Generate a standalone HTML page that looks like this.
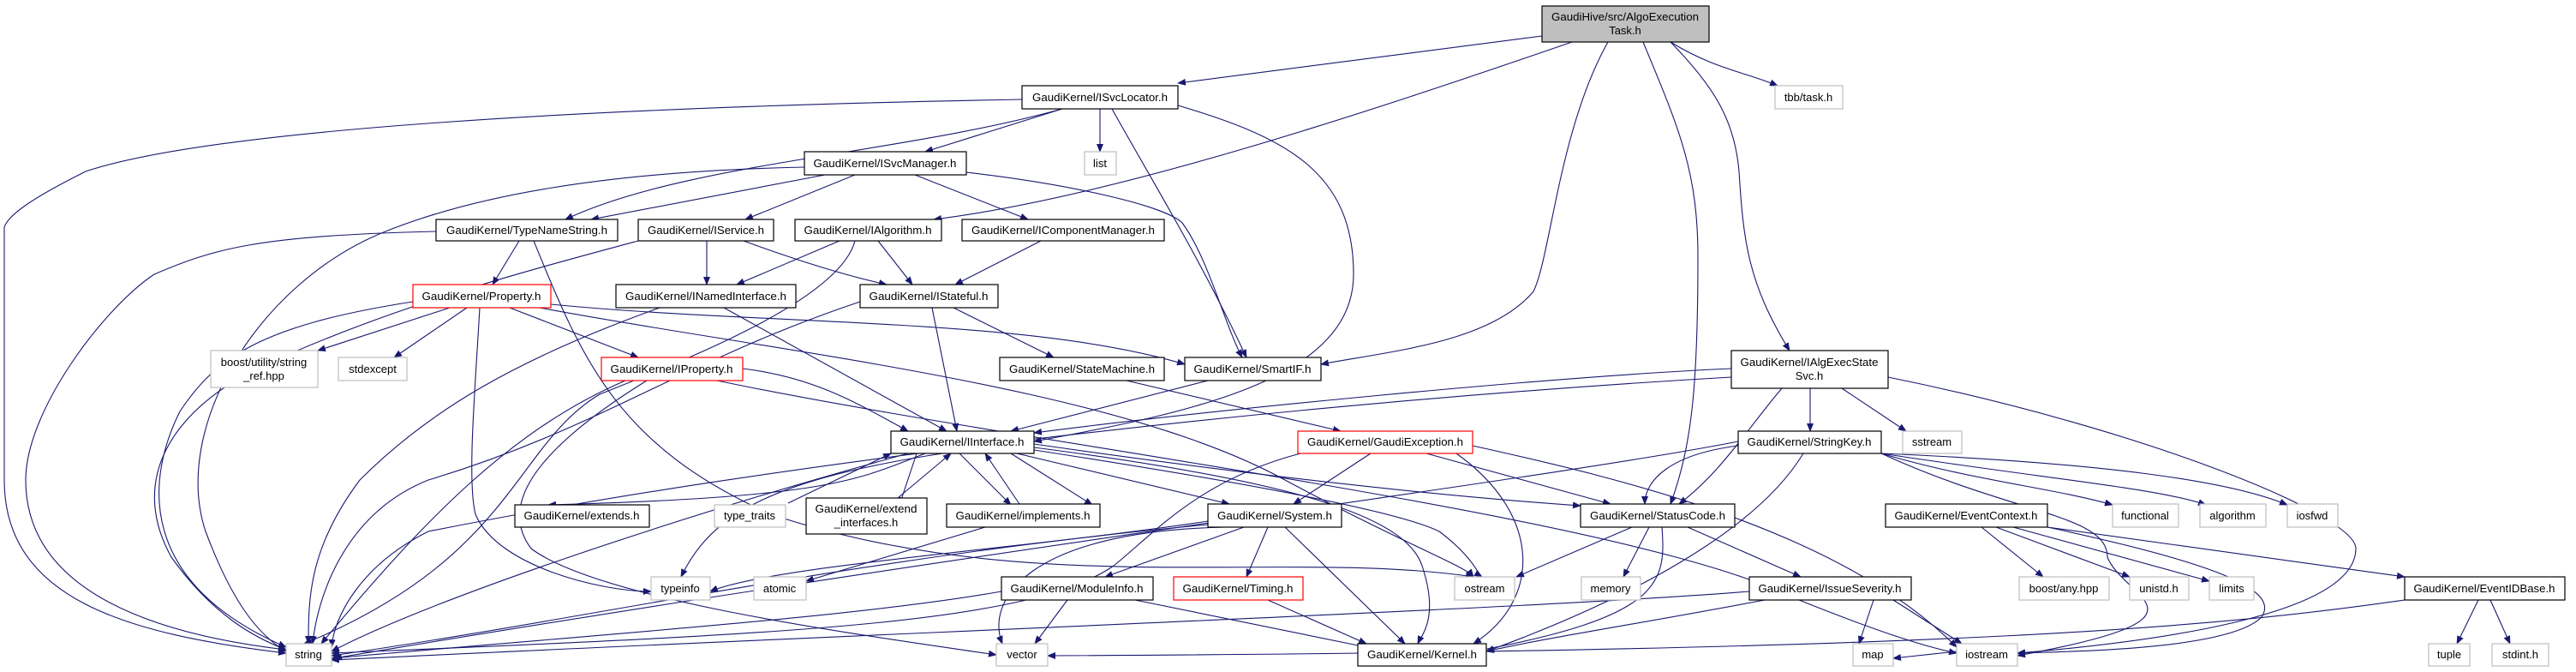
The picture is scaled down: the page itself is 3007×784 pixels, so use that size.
<!DOCTYPE html>
<html><head><meta charset="utf-8"><style>
html,body{margin:0;padding:0;background:#fff;}
svg{display:block;}
text{font-family:"Liberation Sans",sans-serif;font-size:13px;fill:#000;}
.e{fill:none;stroke:#191970;stroke-width:1.1;marker-end:url(#a);}
.n{fill:#fff;stroke:#000;stroke-width:1.2;}
.g{fill:#fff;stroke:#bfbfbf;stroke-width:1.2;}
.r{fill:#fff;stroke:#ff0000;stroke-width:1.2;}
</style></head><body>
<svg width="3007" height="784" viewBox="0 0 3007 784" xmlns="http://www.w3.org/2000/svg">
<defs><marker id="a" markerWidth="10" markerHeight="8" refX="9" refY="4" orient="auto" markerUnits="userSpaceOnUse"><path d="M0,0 L10,4 L0,8 z" fill="#191970"/></marker></defs>

<path class="e" d="M1800,42 L1375,97"/>
<path class="e" d="M1835,49 C1600,130 1300,230 1090,256"/>
<path class="e" d="M1877,49 C1820,150 1810,300 1790,340 C1740,400 1620,410 1542,425"/>
<path class="e" d="M1918,49 C1960,150 1982,200 1982,300 C1982,450 1975,520 1950,588"/>
<path class="e" d="M1950,49 C2000,100 2025,140 2030,200 C2035,280 2040,330 2089,409"/>
<path class="e" d="M1950,49 C2000,80 2040,85 2075,100"/>
<path class="e" d="M1193,116 C700,125 250,150 100,200 C40,230 10,250 5,265 L5,560 C5,700 150,740 334,762"/>
<path class="e" d="M1240,127 C1050,180 800,190 660,256"/>
<path class="e" d="M1240,127 L1080,177"/>
<path class="e" d="M1284,127 L1284,177"/>
<path class="e" d="M1298,127 C1350,220 1400,300 1455,417"/>
<path class="e" d="M1375,123 C1500,160 1580,200 1580,320 C1580,440 1400,480 1207,515"/>
<path class="e" d="M939,195 C700,200 550,230 450,270 C300,330 200,500 240,620 C270,700 300,740 334,760"/>
<path class="e" d="M963,204 L690,256"/>
<path class="e" d="M998,204 L870,256"/>
<path class="e" d="M1068,204 L1200,256"/>
<path class="e" d="M1128,201 C1250,215 1360,240 1380,260 C1410,300 1430,380 1450,417"/>
<path class="e" d="M509,270 C300,275 250,290 180,320 C120,360 30,480 30,560 C30,690 180,740 334,758"/>
<path class="e" d="M606,281 L575,332"/>
<path class="e" d="M623,281 C680,420 720,520 900,600 C1200,700 1500,640 1720,673"/>
<path class="e" d="M745,281 C600,320 450,360 300,430 C200,480 150,560 200,650 C250,720 300,745 334,758"/>
<path class="e" d="M825,281 L825,332"/>
<path class="e" d="M868,281 C920,300 980,320 1035,332"/>
<path class="e" d="M980,281 L860,332"/>
<path class="e" d="M1025,281 L1065,332"/>
<path class="e" d="M998,281 C980,350 800,420 700,460 C600,520 600,650 355,751"/>
<path class="e" d="M1215,281 L1115,332"/>
<path class="e" d="M482,352 C300,380 250,420 210,480 C170,560 160,680 334,755"/>
<path class="e" d="M525,359 L371,409"/>
<path class="e" d="M545,359 L460,417"/>
<path class="e" d="M595,359 L745,417"/>
<path class="e" d="M560,359 C555,450 545,560 555,600 C580,660 700,690 760,690"/>
<path class="e" d="M643,355 C900,380 1200,370 1383,425"/>
<path class="e" d="M630,359 C900,410 1300,450 1500,560 C1650,640 1710,660 1720,673"/>
<path class="e" d="M770,359 C600,420 500,480 420,560 C360,640 360,700 360,751"/>
<path class="e" d="M845,359 L1105,503"/>
<path class="e" d="M1088,359 L1117,503"/>
<path class="e" d="M1113,359 L1230,417"/>
<path class="e" d="M1004,352 C800,420 700,500 500,560 C400,600 370,700 365,751"/>
<path class="e" d="M867,430 C950,440 1000,470 1060,503"/>
<path class="e" d="M730,444 C600,500 500,600 375,751"/>
<path class="e" d="M755,444 C600,540 590,600 620,640 C700,700 1000,740 1163,764"/>
<path class="e" d="M837,444 C1200,520 1900,600 2100,700 C2200,740 2250,755 2284,762"/>
<path class="e" d="M1315,444 L1565,503"/>
<path class="e" d="M1410,444 L1180,503"/>
<path class="e" d="M2021,430 C1800,440 1400,480 1207,505"/>
<path class="e" d="M2021,440 C1500,470 900,540 500,620 C420,660 390,720 387,755"/>
<path class="e" d="M2113,453 L2113,503"/>
<path class="e" d="M2150,453 L2225,503"/>
<path class="e" d="M2080,453 C2040,500 2010,550 1960,588"/>
<path class="e" d="M2204,440 C2500,500 2750,600 2750,640 C2750,720 2500,750 2355,762"/>
<path class="e" d="M1080,529 C1000,560 970,580 640,589"/>
<path class="e" d="M1100,529 L1140,503"/>
<path class="e" d="M1060,529 C800,600 500,700 387,760"/>
<path class="e" d="M1180,529 L1275,589"/>
<path class="e" d="M1187,529 L1435,588"/>
<path class="e" d="M1207,518 C1500,560 1700,580 1845,590"/>
<path class="e" d="M1207,522 C1500,560 1640,600 1660,660 C1680,720 1660,740 1655,751"/>
<path class="e" d="M1207,525 C1500,570 1640,600 1680,620 C1720,650 1725,670 1730,673"/>
<path class="e" d="M1100,529 C900,560 830,600 795,673"/>
<path class="e" d="M1070,529 L1050,589"/>
<path class="e" d="M1120,529 L1180,589"/>
<path class="e" d="M920,587 L1040,529"/>
<path class="e" d="M1048,581 L1110,529"/>
<path class="e" d="M1190,588 L1150,529"/>
<path class="e" d="M1150,615 L941,678"/>
<path class="e" d="M1600,529 L1510,588"/>
<path class="e" d="M1665,529 L1880,588"/>
<path class="e" d="M1700,529 C1800,600 1800,700 1720,751"/>
<path class="e" d="M1518,529 C1400,560 1350,620 1300,660 C1200,730 900,740 387,762"/>
<path class="e" d="M1719,520 C1900,560 2150,620 2284,755"/>
<path class="e" d="M1452,615 L1290,673"/>
<path class="e" d="M1480,615 L1455,673"/>
<path class="e" d="M1500,615 L1640,751"/>
<path class="e" d="M1410,608 C1200,640 900,660 829,690"/>
<path class="e" d="M1410,612 C1000,650 700,720 387,765"/>
<path class="e" d="M1430,615 C1200,620 1150,700 1170,751"/>
<path class="e" d="M1905,615 L1770,673"/>
<path class="e" d="M1925,615 L1895,673"/>
<path class="e" d="M1940,615 C1945,680 1940,720 1720,760"/>
<path class="e" d="M1970,615 L2102,673"/>
<path class="e" d="M2029,520 C1950,530 1920,560 1920,588"/>
<path class="e" d="M2196,529 C2300,560 2400,570 2466,589"/>
<path class="e" d="M2196,529 C2400,560 2520,570 2575,589"/>
<path class="e" d="M2196,529 C2450,540 2600,560 2670,589"/>
<path class="e" d="M2105,529 C2050,620 1900,700 1735,760"/>
<path class="e" d="M2196,529 C2350,600 2460,600 2460,650 C2480,700 2600,720 2355,765"/>
<path class="e" d="M2029,515 C1800,560 1150,640 390,768"/>
<path class="e" d="M2313,615 L2385,673"/>
<path class="e" d="M2330,615 L2486,673"/>
<path class="e" d="M2350,615 L2579,678"/>
<path class="e" d="M2390,615 L2807,673"/>
<path class="e" d="M2390,615 C2600,660 2660,690 2640,720 C2600,760 2400,760 2355,762"/>
<path class="e" d="M2042,690 C1800,710 1000,740 387,770"/>
<path class="e" d="M2187,700 L2170,751"/>
<path class="e" d="M2210,700 L2290,751"/>
<path class="e" d="M2060,700 C1900,730 1800,745 1735,760"/>
<path class="e" d="M2893,700 L2868,751"/>
<path class="e" d="M2907,700 L2930,751"/>
<path class="e" d="M2807,700 C2600,730 2300,760 1223,765"/>
<path class="e" d="M1169,690 C1000,720 700,740 387,768"/>
<path class="e" d="M1246,700 L1208,751"/>
<path class="e" d="M1325,700 L1595,755"/>
<path class="e" d="M1480,700 L1595,751"/>
<path class="e" d="M2284,760 L2210,768"/>

<rect x="1800" y="7" width="195" height="42" fill="#bfbfbf" stroke="#000" stroke-width="1.2"/>
<text x="1897" y="24" text-anchor="middle" textLength="172" lengthAdjust="spacingAndGlyphs">GaudiHive/src/AlgoExecution</text>
<text x="1897" y="40" text-anchor="middle">Task.h</text>

<rect class="n" x="1193" y="100" width="182" height="27"/><text x="1284" y="118" text-anchor="middle" textLength="158" lengthAdjust="spacingAndGlyphs">GaudiKernel/ISvcLocator.h</text>
<rect class="g" x="2072" y="100" width="79" height="27"/><text x="2111" y="118" text-anchor="middle">tbb/task.h</text>
<rect class="n" x="939" y="177" width="189" height="27"/><text x="1033" y="195" text-anchor="middle" textLength="167" lengthAdjust="spacingAndGlyphs">GaudiKernel/ISvcManager.h</text>
<rect class="g" x="1266" y="177" width="37" height="27"/><text x="1284" y="195" text-anchor="middle">list</text>
<rect class="n" x="509" y="256" width="212" height="25"/><text x="615" y="273" text-anchor="middle" textLength="188" lengthAdjust="spacingAndGlyphs">GaudiKernel/TypeNameString.h</text>
<rect class="n" x="745" y="256" width="158" height="25"/><text x="824" y="273" text-anchor="middle" textLength="136" lengthAdjust="spacingAndGlyphs">GaudiKernel/IService.h</text>
<rect class="n" x="928" y="256" width="171" height="25"/><text x="1013" y="273" text-anchor="middle" textLength="149" lengthAdjust="spacingAndGlyphs">GaudiKernel/IAlgorithm.h</text>
<rect class="n" x="1123" y="256" width="236" height="25"/><text x="1241" y="273" text-anchor="middle" textLength="214" lengthAdjust="spacingAndGlyphs">GaudiKernel/IComponentManager.h</text>
<rect class="r" x="482" y="332" width="161" height="27"/><text x="562" y="350" text-anchor="middle" textLength="139" lengthAdjust="spacingAndGlyphs">GaudiKernel/Property.h</text>
<rect class="n" x="719" y="332" width="210" height="27"/><text x="824" y="350" text-anchor="middle" textLength="188" lengthAdjust="spacingAndGlyphs">GaudiKernel/INamedInterface.h</text>
<rect class="n" x="1004" y="332" width="161" height="27"/><text x="1084" y="350" text-anchor="middle" textLength="139" lengthAdjust="spacingAndGlyphs">GaudiKernel/IStateful.h</text>

<rect class="g" x="246" y="409" width="125" height="43"/><text x="308" y="427" text-anchor="middle">boost/utility/string</text><text x="308" y="443" text-anchor="middle">_ref.hpp</text>
<rect class="g" x="395" y="417" width="80" height="27"/><text x="435" y="435" text-anchor="middle">stdexcept</text>
<rect class="r" x="702" y="417" width="165" height="27"/><text x="784" y="435" text-anchor="middle" textLength="143" lengthAdjust="spacingAndGlyphs">GaudiKernel/IProperty.h</text>
<rect class="n" x="1167" y="417" width="192" height="27"/><text x="1263" y="435" text-anchor="middle" textLength="170" lengthAdjust="spacingAndGlyphs">GaudiKernel/StateMachine.h</text>
<rect class="n" x="1383" y="417" width="159" height="27"/><text x="1462" y="435" text-anchor="middle" textLength="137" lengthAdjust="spacingAndGlyphs">GaudiKernel/SmartIF.h</text>
<rect class="n" x="2021" y="409" width="183" height="44"/><text x="2112" y="427" text-anchor="middle" textLength="161" lengthAdjust="spacingAndGlyphs">GaudiKernel/IAlgExecState</text><text x="2112" y="443" text-anchor="middle">Svc.h</text>

<rect class="n" x="1040" y="503" width="167" height="26"/><text x="1123" y="520" text-anchor="middle" textLength="145" lengthAdjust="spacingAndGlyphs">GaudiKernel/IInterface.h</text>
<rect class="r" x="1515" y="503" width="204" height="26"/><text x="1617" y="520" text-anchor="middle" textLength="182" lengthAdjust="spacingAndGlyphs">GaudiKernel/GaudiException.h</text>
<rect class="n" x="2029" y="503" width="167" height="26"/><text x="2112" y="520" text-anchor="middle" textLength="145" lengthAdjust="spacingAndGlyphs">GaudiKernel/StringKey.h</text>
<rect class="g" x="2221" y="503" width="69" height="26"/><text x="2255" y="520" text-anchor="middle">sstream</text>

<rect class="n" x="601" y="589" width="157" height="26"/><text x="679" y="606" text-anchor="middle" textLength="135" lengthAdjust="spacingAndGlyphs">GaudiKernel/extends.h</text>
<rect class="g" x="834" y="589" width="83" height="26"/><text x="875" y="606" text-anchor="middle">type_traits</text>
<rect class="n" x="941" y="581" width="141" height="42"/><text x="1011" y="598" text-anchor="middle" textLength="119" lengthAdjust="spacingAndGlyphs">GaudiKernel/extend</text><text x="1011" y="614" text-anchor="middle">_interfaces.h</text>
<rect class="n" x="1105" y="588" width="179" height="27"/><text x="1194" y="606" text-anchor="middle" textLength="157" lengthAdjust="spacingAndGlyphs">GaudiKernel/implements.h</text>
<rect class="n" x="1410" y="588" width="156" height="27"/><text x="1488" y="606" text-anchor="middle" textLength="134" lengthAdjust="spacingAndGlyphs">GaudiKernel/System.h</text>
<rect class="n" x="1845" y="588" width="180" height="27"/><text x="1935" y="606" text-anchor="middle" textLength="158" lengthAdjust="spacingAndGlyphs">GaudiKernel/StatusCode.h</text>
<rect class="n" x="2201" y="588" width="189" height="27"/><text x="2295" y="606" text-anchor="middle" textLength="167" lengthAdjust="spacingAndGlyphs">GaudiKernel/EventContext.h</text>
<rect class="g" x="2466" y="588" width="77" height="27"/><text x="2504" y="606" text-anchor="middle">functional</text>
<rect class="g" x="2568" y="588" width="77" height="27"/><text x="2606" y="606" text-anchor="middle">algorithm</text>
<rect class="g" x="2670" y="588" width="59" height="27"/><text x="2699" y="606" text-anchor="middle">iosfwd</text>

<rect class="g" x="760" y="673" width="69" height="27"/><text x="794" y="691" text-anchor="middle">typeinfo</text>
<rect class="g" x="880" y="673" width="61" height="27"/><text x="910" y="691" text-anchor="middle">atomic</text>
<rect class="n" x="1169" y="673" width="177" height="27"/><text x="1257" y="691" text-anchor="middle" textLength="155" lengthAdjust="spacingAndGlyphs">GaudiKernel/ModuleInfo.h</text>
<rect class="r" x="1370" y="673" width="151" height="27"/><text x="1445" y="691" text-anchor="middle" textLength="129" lengthAdjust="spacingAndGlyphs">GaudiKernel/Timing.h</text>
<rect class="g" x="1698" y="673" width="70" height="27"/><text x="1733" y="691" text-anchor="middle">ostream</text>
<rect class="g" x="1846" y="673" width="69" height="27"/><text x="1880" y="691" text-anchor="middle">memory</text>
<rect class="n" x="2042" y="673" width="189" height="27"/><text x="2136" y="691" text-anchor="middle" textLength="167" lengthAdjust="spacingAndGlyphs">GaudiKernel/IssueSeverity.h</text>
<rect class="g" x="2357" y="673" width="105" height="27"/><text x="2409" y="691" text-anchor="middle">boost/any.hpp</text>
<rect class="g" x="2486" y="673" width="69" height="27"/><text x="2520" y="691" text-anchor="middle">unistd.h</text>
<rect class="g" x="2579" y="673" width="52" height="27"/><text x="2605" y="691" text-anchor="middle">limits</text>
<rect class="n" x="2807" y="673" width="187" height="27"/><text x="2900" y="691" text-anchor="middle" textLength="165" lengthAdjust="spacingAndGlyphs">GaudiKernel/EventIDBase.h</text>

<rect class="g" x="334" y="751" width="53" height="26"/><text x="360" y="768" text-anchor="middle">string</text>
<rect class="g" x="1163" y="751" width="60" height="26"/><text x="1193" y="768" text-anchor="middle">vector</text>
<rect class="n" x="1585" y="751" width="150" height="26"/><text x="1660" y="768" text-anchor="middle" textLength="128" lengthAdjust="spacingAndGlyphs">GaudiKernel/Kernel.h</text>
<rect class="g" x="2163" y="751" width="47" height="26"/><text x="2186" y="768" text-anchor="middle">map</text>
<rect class="g" x="2284" y="751" width="71" height="26"/><text x="2319" y="768" text-anchor="middle">iostream</text>
<rect class="g" x="2835" y="751" width="48" height="26"/><text x="2859" y="768" text-anchor="middle">tuple</text>
<rect class="g" x="2909" y="751" width="66" height="26"/><text x="2942" y="768" text-anchor="middle">stdint.h</text>
</svg>
</body></html>
